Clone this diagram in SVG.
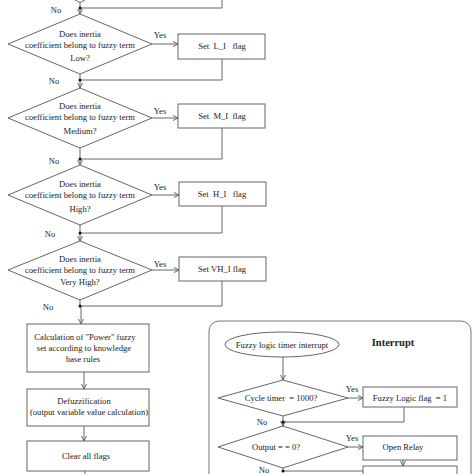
<svg xmlns="http://www.w3.org/2000/svg" width="474" height="474" viewBox="0 0 474 474">
<defs>
<marker id="ah" markerWidth="6" markerHeight="6" refX="5" refY="3" orient="auto" markerUnits="userSpaceOnUse">
<path d="M0,0.5 L5,3 L0,5.5" fill="none" stroke="#555" stroke-width="0.9"/>
</marker>
<style>
.s{fill:#fff;stroke:#666;stroke-width:1}
.l{fill:none;stroke:#666;stroke-width:1}
.a{fill:none;stroke:#666;stroke-width:1;marker-end:url(#ah)}
.t{font-family:"Liberation Serif","Times New Roman",serif;font-size:8.6px;fill:#222;text-anchor:middle}
.b{font-family:"Liberation Serif","Times New Roman",serif;font-size:10.5px;font-weight:bold;fill:#222;text-anchor:middle}
.d{fill:#111}
</style>
</defs>
<rect width="474" height="474" fill="#fff"/>

<g id="connectors">
<path class="l" d="M75,0 L80,2.5 L85,0"/>
<path class="l" d="M80,2.5 V8 M222,0 V8 H80"/>
<path class="a" d="M80,8 V14"/>
<path class="a" d="M152,44 H178"/>
<path class="l" d="M80,74 V80 M222,59 V80 H80"/>
<path class="a" d="M80,80 V88"/>
<path class="a" d="M152,118 H178"/>
<path class="l" d="M80,148 V159 M222,128 V159 H80"/>
<path class="a" d="M80,159 V165"/>
<path class="a" d="M152,195 H179"/>
<path class="l" d="M80,225 V233 M222,206 V233 H80"/>
<path class="a" d="M80,233 V241"/>
<path class="a" d="M152,270 H179"/>
<path class="l" d="M80,300 V306 M222,281 V306 H80"/>
<path class="a" d="M81,306 V324"/>
<path class="a" d="M84,372 V389"/>
<path class="a" d="M84,426 V441"/>
<path class="l" d="M85,471 V474"/>
<path class="a" d="M283,357 V380"/>
<path class="a" d="M348,398 H363"/>
<path class="l" d="M404,407 V422 H283 M283,416 V422"/>
<path class="a" d="M283,422 V426"/>
<path class="a" d="M348,447 H363"/>
<path class="a" d="M403,460 V466"/>
<path class="l" d="M283,468 V471 H363"/>
<circle class="d" cx="80" cy="8" r="1.5"/>
<circle class="d" cx="80" cy="80" r="1.5"/>
<circle class="d" cx="80" cy="159" r="1.5"/>
<circle class="d" cx="80" cy="233" r="1.5"/>
<circle class="d" cx="80" cy="306" r="1.5"/>
<circle class="d" cx="283" cy="422" r="1.5"/>
<circle class="d" cx="283" cy="471" r="1.5"/>
<text class="t" x="56" y="13">No</text>
<text class="t" x="54" y="84">No</text>
<text class="t" x="54" y="164">No</text>
<text class="t" x="50" y="237">No</text>
<text class="t" x="48" y="310">No</text>
<text class="t" x="160" y="38">Yes</text>
<text class="t" x="160" y="114">Yes</text>
<text class="t" x="160" y="190">Yes</text>
<text class="t" x="160" y="267">Yes</text>
<text class="t" x="352" y="392">Yes</text>
<text class="t" x="352" y="441">Yes</text>
<text class="t" x="262" y="425">No</text>
<text class="t" x="264" y="473">No</text>
</g>

<g id="d1">
<polygon class="s" points="80,14 152,44 80,74 8,44"/>
<text class="t" x="80" y="37">Does inertia</text>
<text class="t" x="80" y="48">coefficient belong to fuzzy term</text>
<text class="t" x="80" y="61">Low?</text>
</g>
<g id="b1">
<rect class="s" x="178" y="34" width="87" height="25"/>
<text class="t" x="222" y="49" xml:space="preserve">Set  L_I   flag</text>
</g>

<g id="d2">
<polygon class="s" points="80,88 152,118 80,148 8,118"/>
<text class="t" x="80" y="109">Does inertia</text>
<text class="t" x="80" y="120">coefficient belong to fuzzy term</text>
<text class="t" x="80" y="134">Medium?</text>
</g>
<g id="b2">
<rect class="s" x="178" y="104" width="87" height="24"/>
<text class="t" x="222" y="119" xml:space="preserve">Set  M_I  flag</text>
</g>

<g id="d3">
<polygon class="s" points="80,165 152,195 80,225 8,195"/>
<text class="t" x="80" y="187">Does inertia</text>
<text class="t" x="80" y="198">coefficient belong to fuzzy term</text>
<text class="t" x="80" y="212">High?</text>
</g>
<g id="b3">
<rect class="s" x="179" y="182" width="87" height="24"/>
<text class="t" x="222" y="197" xml:space="preserve">Set  H_I   flag</text>
</g>

<g id="d4">
<polygon class="s" points="80,241 152,270 80,300 8,270"/>
<text class="t" x="80" y="262">Does inertia</text>
<text class="t" x="80" y="273">coefficient belong to fuzzy term</text>
<text class="t" x="80" y="285">Very High?</text>
</g>
<g id="b4">
<rect class="s" x="179" y="257" width="87" height="24"/>
<text class="t" x="222" y="272">Set VH_I flag</text>
</g>

<g id="calc">
<rect class="s" x="27" y="324" width="122" height="48"/>
<text class="t" x="85" y="340">Calculation of "Power" fuzzy</text>
<text class="t" x="84" y="351">set according to knowledge</text>
<text class="t" x="83" y="362">base rules</text>
</g>
<g id="defuzz">
<rect class="s" x="27" y="389" width="122" height="37"/>
<text class="t" x="84" y="404">Defuzzification</text>
<text class="t" x="89" y="415">(output variable value calculation)</text>
</g>
<g id="clear">
<rect class="s" x="27" y="441" width="122" height="30"/>
<text class="t" x="86" y="459">Clear all flags</text>
</g>

<g id="interrupt-panel">
<rect x="209" y="321" width="262" height="170" rx="10" fill="none" stroke="#777" stroke-width="1"/>
<text class="b" x="393" y="346">Interrupt</text>
</g>
<g id="timer">
<ellipse class="s" cx="282" cy="344.5" rx="57" ry="12.5"/>
<text class="t" x="282" y="347.5">Fuzzy logic timer interrupt</text>
</g>
<g id="cycle">
<polygon class="s" points="283,380 348,398 283,416 218,398"/>
<text class="t" x="281" y="401" xml:space="preserve">Cycle timer  = 1000?</text>
</g>
<g id="flag">
<rect class="s" x="363" y="387" width="94" height="20"/>
<text class="t" x="410" y="401" xml:space="preserve">Fuzzy Logic flag  = 1</text>
</g>
<g id="output">
<polygon class="s" points="283,426 348,447 283,468 218,447"/>
<text class="t" x="276" y="450">Output = = 0?</text>
</g>
<g id="relay">
<rect class="s" x="363" y="436" width="94" height="24"/>
<text class="t" x="403" y="450">Open Relay</text>
</g>
<g id="next">
<rect class="s" x="363" y="466" width="94" height="20"/>
</g>
</svg>
